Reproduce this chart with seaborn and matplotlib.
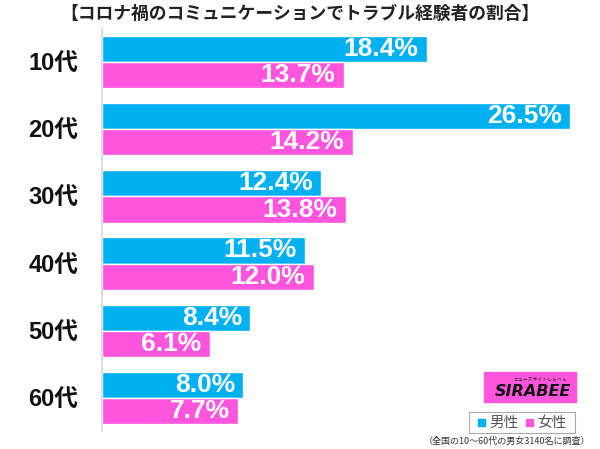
"""Trouble experience rate in communication during COVID, by age and gender."""

import matplotlib.pyplot as plt
import matplotlib.patches as mpatches
import pandas as pd
import seaborn as sns

AGES = ["10代", "20代", "30代", "40代", "50代", "60代"]
MALE = [18.4, 26.5, 12.4, 11.5, 8.4, 8.0]
FEMALE = [13.7, 14.2, 13.8, 12.0, 6.1, 7.7]
SERIES = ["男性", "女性"]
COLORS = ["#00B0F0", "#FF55DD"]

TITLE = "【コロナ禍のコミュニケーションでトラブル経験者の割合】"
NOTE = "（全国の10～60代の男女3140名に調査）"

sns.set_theme(style="white")
plt.rcParams["font.family"] = ["Noto Sans CJK JP", "DejaVu Sans"]
NUM_FONT = ["Liberation Sans", "Noto Sans CJK JP"]


def main():
    df = pd.DataFrame({
        "age": AGES * 2,
        "value": MALE + FEMALE,
        "sex": [SERIES[0]] * len(AGES) + [SERIES[1]] * len(AGES),
    })

    fig = plt.figure(figsize=(6, 4.49), dpi=100)
    ax = fig.add_axes([0.17, 0.039, 0.83, 0.8975])
    sns.barplot(data=df, x="value", y="age", hue="sex", orient="h",
                palette=COLORS, width=0.78, saturation=1, ax=ax, legend=False)

    ax.set_xlim(0, 28.2)
    ax.set_ylim(5.5, -0.5)
    ax.set_xlabel("")
    ax.set_ylabel("")
    ax.set_xticks([])
    for side in ["top", "right", "bottom"]:
        ax.spines[side].set_visible(False)
    ax.spines["left"].set_color("#dddddd")
    ax.spines["left"].set_linewidth(1.5)
    ax.tick_params(axis="y", length=0, pad=17)
    for lab in ax.get_yticklabels():
        lab.set_fontsize(17)
        lab.set_fontweight("bold")
        lab.set_family(NUM_FONT)
        lab.set_color("#111111")

    for container in ax.containers:
        labels = ax.bar_label(container, labels=[f"{v:.1f}%" for v in container.datavalues],
                              label_type="edge", padding=-6, color="white",
                              fontsize=19, fontweight="bold", family=NUM_FONT)
        for t in labels:
            t.set_horizontalalignment("right")

    fig.text(0.5, 0.968, TITLE, ha="center", va="center", fontsize=12.8,
             fontweight="bold", color="#222222")

    # logo
    fig.patches.append(mpatches.Rectangle((484 / 600, 1 - 402 / 449), 92 / 600, 30 / 449,
                                          transform=fig.transFigure, color="#FF55DD"))
    fig.text(533 / 600, 1 - 391 / 449, "SIRABEE", ha="center", va="center",
             fontsize=11.5, fontweight="bold", style="italic", color="#111111",
             family=["DejaVu Sans"])
    fig.text(540 / 600, 1 - 379 / 449, "ニュースサイトしらべぇ", ha="center", va="center",
             fontsize=3.5, color="#222222")

    # legend box
    fig.patches.append(mpatches.Rectangle((469 / 600, 1 - 433 / 449), 106 / 600, 21 / 449,
                                          transform=fig.transFigure, fill=False,
                                          edgecolor="#aaaaaa", linewidth=0.8))
    fig.patches.append(mpatches.Rectangle((478 / 600, 1 - 426 / 449), 7 / 600, 7 / 449,
                                          transform=fig.transFigure, color=COLORS[0]))
    fig.text(489 / 600, 1 - 422.5 / 449, SERIES[0], ha="left", va="center",
             fontsize=10.5, color="#555555")
    fig.patches.append(mpatches.Rectangle((526 / 600, 1 - 426 / 449), 7 / 600, 7 / 449,
                                          transform=fig.transFigure, color=COLORS[1]))
    fig.text(537 / 600, 1 - 422.5 / 449, SERIES[1], ha="left", va="center",
             fontsize=10.5, color="#555555")

    fig.text(590 / 600, 1 - 441 / 449, NOTE, ha="right", va="center",
             fontsize=6.5, color="#333333")

    fig.savefig("out.png", dpi=100)
    plt.close(fig)


if __name__ == "__main__":
    main()
